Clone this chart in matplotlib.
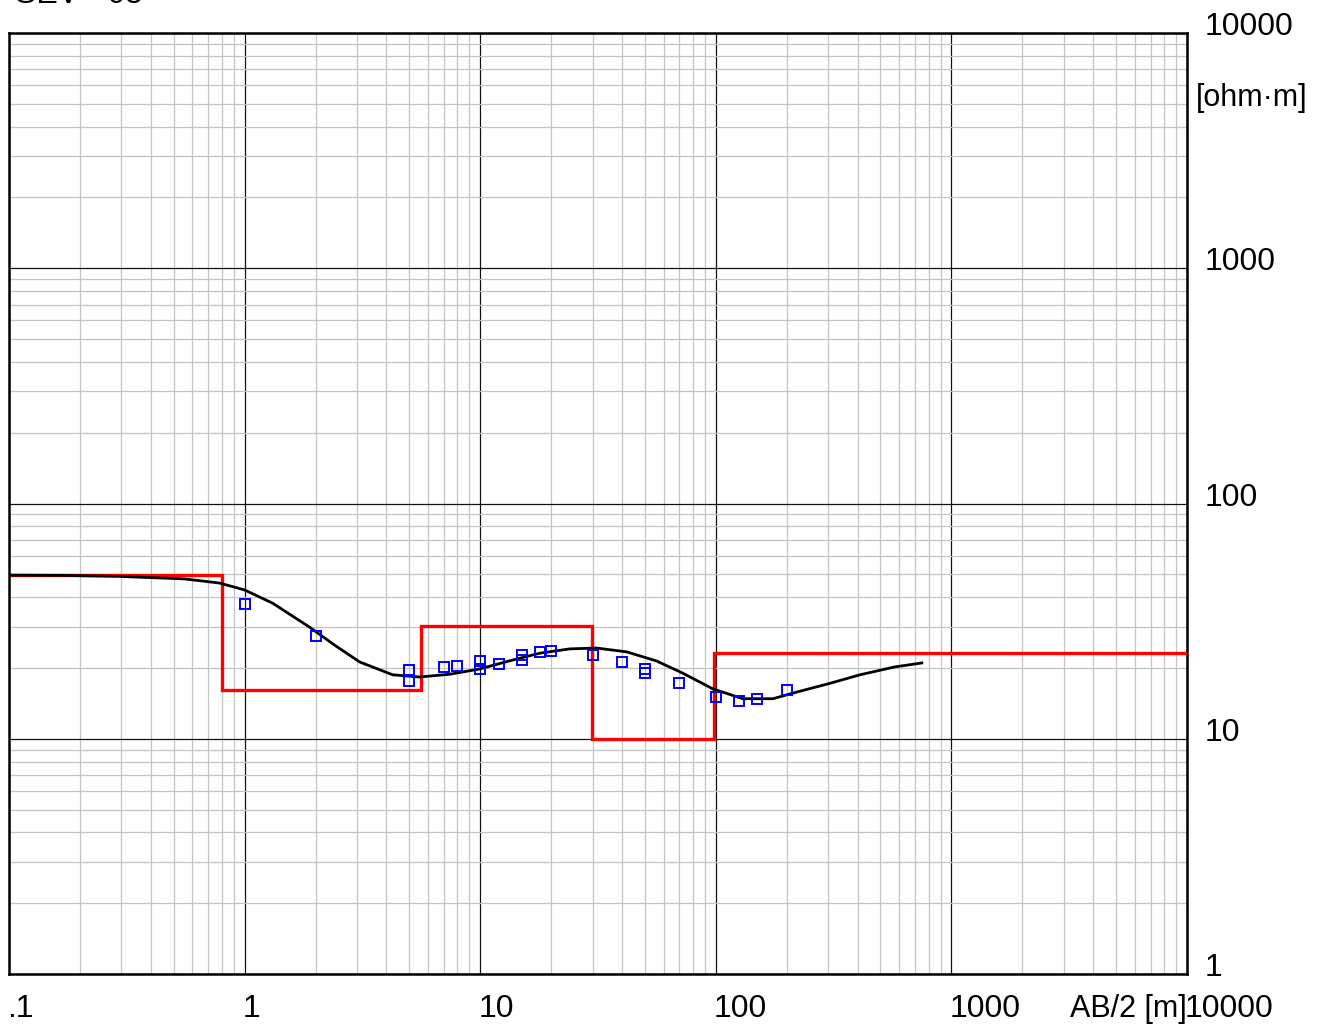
import matplotlib
matplotlib.use("Agg")
import matplotlib.pyplot as plt
import matplotlib.transforms as mtransforms
from matplotlib.ticker import LogLocator, NullFormatter

plt.rcParams['font.family'] = ['Liberation Sans', 'DejaVu Sans']

# Layered resistivity model (step curve): layer boundaries in AB/2 [m] and resistivities [ohm·m]
model_ab2 = [0.1, 0.80, 5.59, 29.7, 98.0, 10000]
model_rho = [49.5, 16.1, 30.1, 10.0, 23.1]

# Calculated apparent resistivity curve
calc_ab2 = [0.1, 0.164, 0.294, 0.556, 0.783, 1.0, 1.315, 1.888, 2.41, 3.08, 4.25,
            5.53, 7.42, 9.95, 13.7, 17.9, 24.0, 31.2, 41.9, 56.1, 72.4, 97.1,
            130, 175, 221, 305, 409, 575, 749]
calc_rho = [49.6, 49.5, 49.0, 47.8, 45.9, 42.9, 37.7, 29.8, 25.0, 21.2, 18.7,
            18.3, 18.8, 19.8, 21.6, 23.1, 24.1, 24.3, 23.4, 21.4, 19.0, 16.3,
            14.8, 14.8, 15.8, 17.2, 18.7, 20.2, 21.0]

# Field measurements
obs_ab2 = [1.0, 2.0, 5.0, 5.0, 7.0, 8.0, 10.0, 10.0, 12.0, 15.0, 15.0, 18.0, 20.0,
           30.0, 40.0, 50.0, 50.0, 70.0, 100.0, 125.0, 150.0, 200.0]
obs_rho = [37.4, 27.3, 19.6, 17.6, 20.2, 20.4, 21.4, 19.8, 20.8, 22.7, 21.6, 23.4, 23.6,
           22.7, 21.2, 19.8, 19.0, 17.2, 15.0, 14.5, 14.8, 16.1]

x_ticks = [0.1, 1, 10, 100, 1000, 10000]
x_labels = ['.1', '1', '10', '100', '1000', '10000']
y_ticks = [1, 10, 100, 1000, 10000]
y_labels = ['1', '10', '100', '1000', '10000']

W, H = 1321, 1026
fig = plt.figure(figsize=(W / 100, H / 100), dpi=100)
ax = fig.add_axes([9 / W, 1 - 974 / H, (1187 - 9) / W, (974 - 33) / H])
ax.set_xscale('log')
ax.set_yscale('log')
ax.set_xlim(0.1, 10000)
ax.set_ylim(1, 10000)

ax.xaxis.set_major_locator(LogLocator(base=10, numticks=20))
ax.yaxis.set_major_locator(LogLocator(base=10, numticks=20))
ax.xaxis.set_minor_locator(LogLocator(base=10, subs=range(2, 10), numticks=50))
ax.yaxis.set_minor_locator(LogLocator(base=10, subs=range(2, 10), numticks=50))
ax.xaxis.set_major_formatter(NullFormatter())
ax.yaxis.set_major_formatter(NullFormatter())
ax.xaxis.set_minor_formatter(NullFormatter())
ax.yaxis.set_minor_formatter(NullFormatter())
ax.tick_params(which='both', length=0)

ax.grid(which='minor', color='#c4c4c4', linewidth=0.9)
ax.grid(which='major', color='#111111', linewidth=0.9)
ax.set_axisbelow(True)
for sp in ax.spines.values():
    sp.set_linewidth(1.8)
    sp.set_color('black')

# Model step curve
ax.stairs(model_rho, model_ab2, color='#ff0000', linewidth=2.4, baseline=None, zorder=3)
# Calculated curve
ax.plot(calc_ab2, calc_rho, color='black', linewidth=2.0, zorder=4)
# Observed data
ax.plot(obs_ab2, obs_rho, linestyle='none', marker='s', markersize=7.5,
        markerfacecolor='none', markeredgecolor='#0000ff', markeredgewidth=1.4, zorder=5)

fs = 23
fs_small = 22
# Y labels on the right, sitting on their gridlines
ytr = mtransforms.blended_transform_factory(ax.transAxes, ax.transData)
yoff = mtransforms.ScaledTranslation(18 / 100, -2 / 100, fig.dpi_scale_trans)
for v, s in zip(y_ticks, y_labels):
    ax.text(1.0, v, s, transform=ytr + yoff, ha='left', va='baseline', fontsize=fs)

# X labels below the axis, starting at their gridlines
xtr = mtransforms.blended_transform_factory(ax.transData, ax.transAxes)
xoff = mtransforms.ScaledTranslation(-2 / 100, -43 / 100, fig.dpi_scale_trans)
for v, s in zip(x_ticks, x_labels):
    ax.text(v, 0.0, s, transform=xtr + xoff, ha='left', va='baseline', fontsize=fs)

fig.text(1187 / W, 1 - 1017 / H, 'AB/2 [m]', ha='right', va='baseline', fontsize=fs_small)
fig.text(1196 / W, 1 - 98 / H, '[ohm·m]', ha='left', va='center', fontsize=fs_small)
fig.text(15 / W, 1 - 3 / H, 'SEV - 05', ha='left', va='baseline', fontsize=fs)

fig.savefig('out.png', dpi=100, facecolor='white')
